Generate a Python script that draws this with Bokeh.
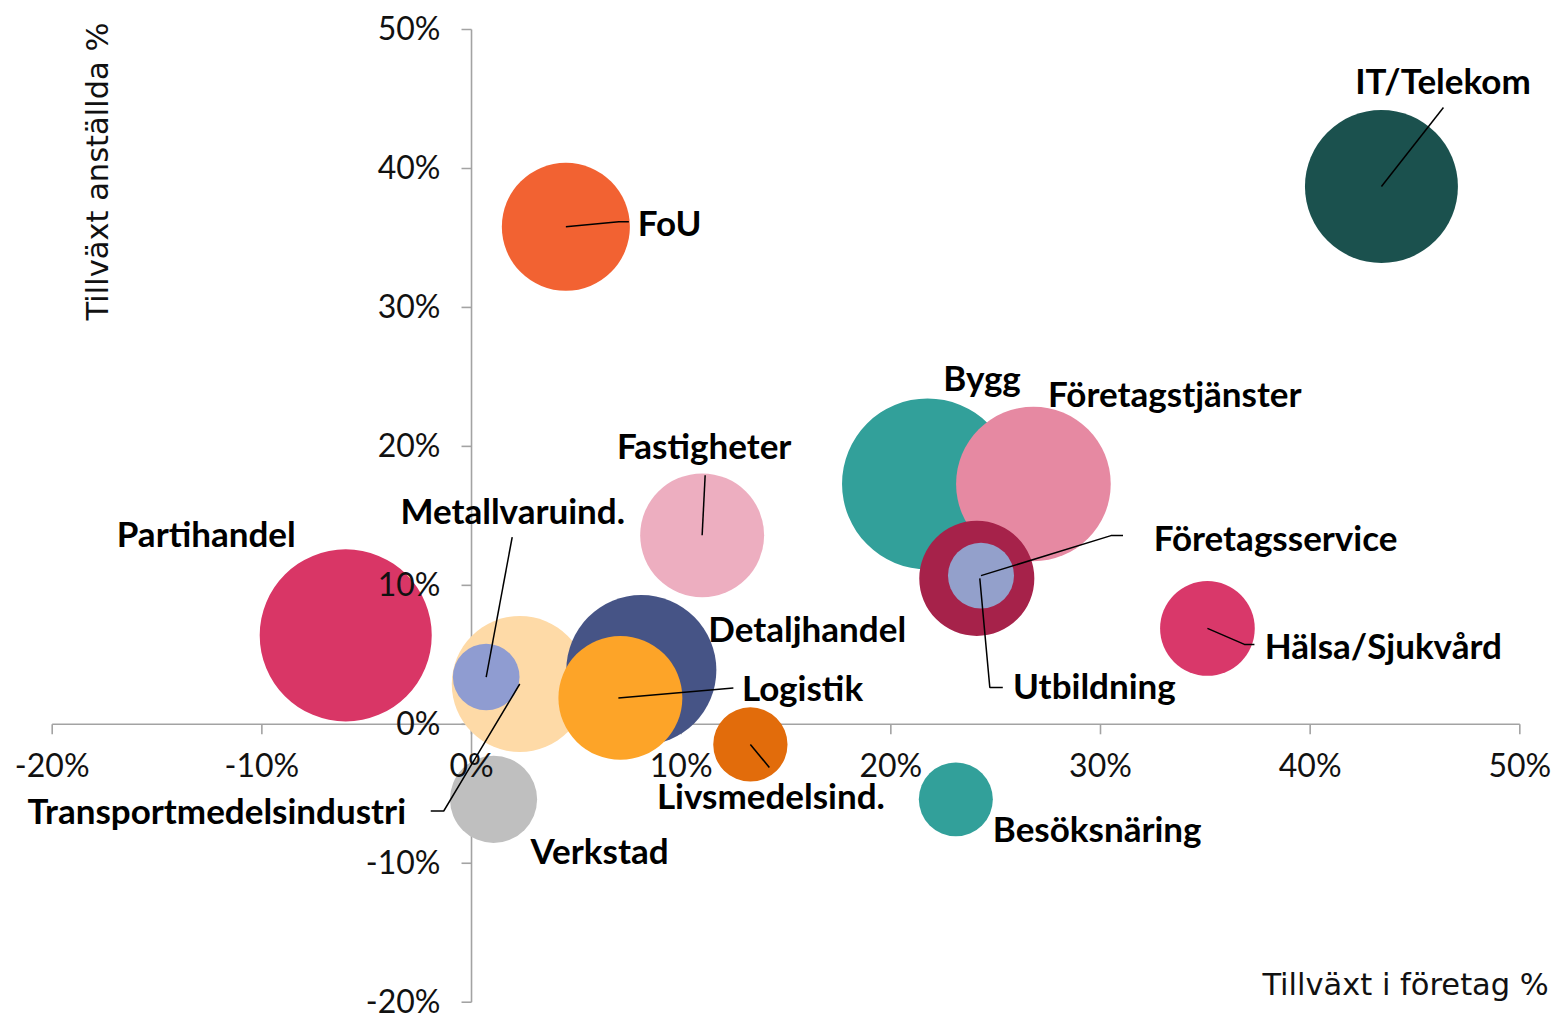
import math
from bokeh.plotting import figure
from bokeh.models import ColumnDataSource, Range1d
from bokeh.embed import file_html
from bokeh.resources import INLINE
from bokeh.core.properties import value

# ---------------- data ----------------
branscher = ["Partihandel", "Bygg", "Företagstjänster", "Utbildning", "Företagsservice",
             "IT/Telekom", "FoU", "Fastigheter", "Hälsa/Sjukvård", "Transportmedelsindustri",
             "Detaljhandel", "Metallvaruind.", "Logistik", "Livsmedelsind.", "Verkstad",
             "Besöksnäring"]
tillvaxt_foretag = [-6.0, 21.75, 26.8, 24.1, 24.3, 43.4, 4.5, 11.0, 35.1, 2.3,
                    8.1, 0.7, 7.1, 13.3, 1.05, 23.1]
tillvaxt_anstallda = [6.4, 17.3, 17.3, 10.5, 10.7, 38.7, 35.8, 13.6, 6.9, 2.9,
                      3.9, 3.4, 1.9, -1.45, -5.4, -5.4]
storlek = [74.0, 73.1, 59.8, 33.1, 10.9, 58.5, 41.0, 38.4, 22.4, 46.2,
           56.3, 11.1, 38.4, 13.8, 19.0, 13.7]
x_ticks = [-20, -10, 0, 10, 20, 30, 40, 50]
y_ticks = [-20, -10, 0, 10, 20, 30, 40, 50]
x_tick_labels = ["-20%", "-10%", "0%", "10%", "20%", "30%", "40%", "50%"]
y_tick_labels = ["-20%", "-10%", "0%", "10%", "20%", "30%", "40%", "50%"]
x_title = "Tillväxt i företag %"
y_title = "Tillväxt anställda %"

# ---------------- styles / layout ----------------
colors = {
    "Partihandel": "#D93666", "Bygg": "#32A09A", "Företagstjänster": "#E689A2",
    "Utbildning": "#A6224A", "Företagsservice": "#93A0CB", "IT/Telekom": "#1B514E",
    "FoU": "#F26232", "Fastigheter": "#EDAEC0", "Hälsa/Sjukvård": "#D9386A",
    "Transportmedelsindustri": "#FEDAA7", "Detaljhandel": "#465486",
    "Metallvaruind.": "#8F9CD1", "Logistik": "#FDA428", "Livsmedelsind.": "#E26C0B",
    "Verkstad": "#BFBFBF", "Besöksnäring": "#32A09A",
}
# label placement: (dx px, baseline dy px, align) relative to bubble centre (screen px, y down)
label_pos = {
    "IT/Telekom": (61.5, -93.5, "center"),
    "FoU": (72, 7.3, "left"),
    "Bygg": (54.5, -94, "center"),
    "Företagstjänster": (14.7, -78, "left"),
    "Fastigheter": (2, -77.5, "center"),
    "Partihandel": (-139.5, -90, "center"),
    "Metallvaruind.": (26.5, -154.5, "center"),
    "Företagsservice": (172.7, -26.3, "left"),
    "Detaljhandel": (67, -30, "left"),
    "Hälsa/Sjukvård": (57.3, 28.7, "left"),
    "Logistik": (121.5, 1.5, "left"),
    "Utbildning": (36.2, 119.5, "left"),
    "Transportmedelsindustri": (-113.7, 139, "right"),
    "Livsmedelsind.": (20.5, 63, "center"),
    "Verkstad": (37, 63, "left"),
    "Besöksnäring": (37, 41, "left"),
}
# leader lines: list of (dx px, dy px) relative to bubble centre
leaders = {
    "IT/Telekom": [(0, 0), (62, -79)],
    "FoU": [(0, 0), (53, -5), (63, -5)],
    "Fastigheter": [(0, 0), (3, -60)],
    "Metallvaruind.": [(0, 0), (26, -140)],
    "Företagsservice": [(0, 0), (130, -40), (142, -40)],
    "Utbildning": [(3, 0), (13, 109), (26, 109)],
    "Hälsa/Sjukvård": [(0, 0), (37, 16), (47, 16)],
    "Logistik": [(-2, 0), (113, -10)],
    "Transportmedelsindustri": [(0, 0), (-76, 127), (-89, 127)],
    "Livsmedelsind.": [(0, 0), (19, 23)],
}

W, H = 1555, 1013
SX, SY = 20.966, 13.896          # px per percent
X0 = -20 - 51.7 / SX
X1 = X0 + W / SX
Y1 = 50 + 29.0 / SY
Y0 = Y1 - H / SY
AXIS_COLOR = "#A3A3A3"
TICK_FONT = "Lato"
TITLE_FONT = "DejaVu Sans"
LABEL_FONT = "Lato"
LABEL_PX = 35
TICK_PX = 32
TITLE_PX = 30.5
BASE_FIX = 0.36                  # baseline correction (em)

p = figure(width=W, height=H, x_range=Range1d(X0, X1), y_range=Range1d(Y0, Y1),
           output_backend="svg", toolbar_location=None, min_border=0,
           x_axis_type=None, y_axis_type=None, outline_line_color=None,
           background_fill_color="white", border_fill_color="white")
p.grid.visible = False

# axis lines (behind bubbles)
p.segment(x0=[x_ticks[0], 0], y0=[0, y_ticks[0]], x1=[x_ticks[-1], 0], y1=[0, y_ticks[-1]],
          line_color=AXIS_COLOR, line_width=1.6)
p.segment(x0=x_ticks, y0=[0] * len(x_ticks), x1=x_ticks, y1=[-10 / SY] * len(x_ticks),
          line_color=AXIS_COLOR, line_width=1.6)
p.segment(x0=[0] * len(y_ticks), y0=y_ticks, x1=[-10 / SX] * len(y_ticks), y1=y_ticks,
          line_color=AXIS_COLOR, line_width=1.6)

# bubbles
src = ColumnDataSource(dict(
    x=tillvaxt_foretag, y=tillvaxt_anstallda, name=branscher,
    d=[20 * math.sqrt(s) for s in storlek],
    c=[colors[b] for b in branscher],
))
p.scatter("x", "y", size="d", fill_color="c", line_color=None, marker="circle", source=src)

# tick labels
tfix = BASE_FIX * TICK_PX
p.text(x=x_ticks, y=[0] * len(x_ticks), text=x_tick_labels, y_offset=52 - tfix,
       text_align="center", text_baseline="alphabetic", text_font=value(TICK_FONT),
       text_font_size=f"{TICK_PX}px", text_color="#111111")
p.text(x=[0] * len(y_ticks), y=y_ticks, text=y_tick_labels, x_offset=-31, y_offset=10 - tfix,
       text_align="right", text_baseline="alphabetic", text_font=value(TICK_FONT),
       text_font_size=f"{TICK_PX}px", text_color="#111111")

# axis titles
hfix = BASE_FIX * TITLE_PX
p.text(x=[x_ticks[-1]], y=[y_ticks[0]], text=[x_title], x_offset=29, y_offset=-7 - hfix,
       text_align="right", text_baseline="alphabetic", text_font=value(TITLE_FONT),
       text_font_size=f"{TITLE_PX}px", text_color="#111111")
p.text(x=[x_ticks[0]], y=[y_ticks[-1]], text=[y_title], x_offset=56 - hfix, y_offset=142,
       angle=math.pi / 2, text_align="center", text_baseline="alphabetic",
       text_font=value(TITLE_FONT), text_font_size=f"{TITLE_PX}px", text_color="#111111")

# leader lines
xs, ys = [], []
for b, xv, yv in zip(branscher, tillvaxt_foretag, tillvaxt_anstallda):
    if b in leaders:
        xs.append([xv + dx / SX for dx, dy in leaders[b]])
        ys.append([yv - dy / SY for dx, dy in leaders[b]])
p.multi_line(xs, ys, line_color="black", line_width=1.5)

# data labels
lfix = BASE_FIX * LABEL_PX
for b, xv, yv in zip(branscher, tillvaxt_foretag, tillvaxt_anstallda):
    dx, dy, al = label_pos[b]
    p.text(x=[xv], y=[yv], text=[b], x_offset=dx, y_offset=dy - lfix, text_align=al,
           text_baseline="alphabetic", text_font=value(LABEL_FONT),
           text_font_style="bold", text_font_size=f"{LABEL_PX}px", text_color="black")

open("out.html", "w").write(file_html(p, INLINE))
